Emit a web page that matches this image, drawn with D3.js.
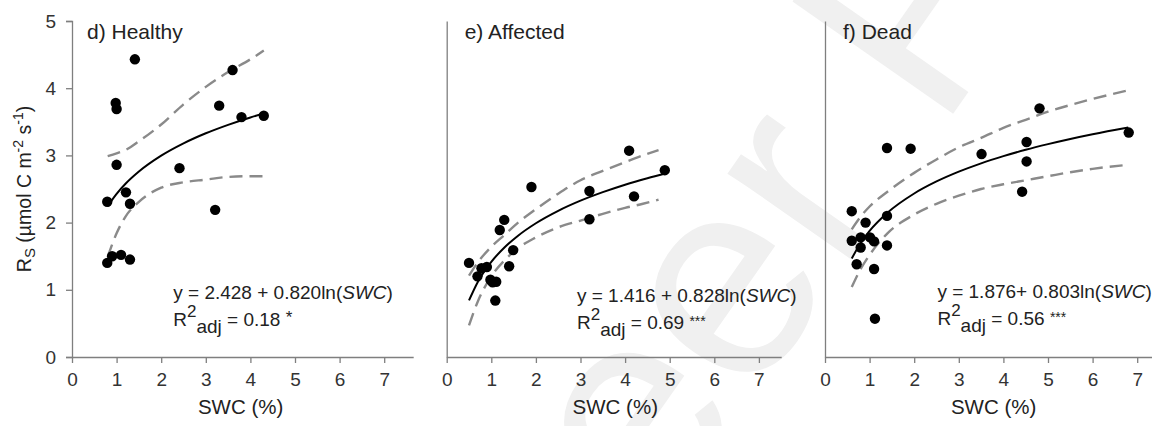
<!DOCTYPE html>
<html>
<head>
<meta charset="utf-8">
<script src="https://cdn.jsdelivr.net/npm/d3@7"></script>
<style>
  body { margin: 0; background: #fff; }
  svg { font-family: "Liberation Sans", Arial, sans-serif; }
  .axis path, .axis line { stroke: #7f7f7f; stroke-width: 1.3; }
  .axis text { fill: #333; font-size: 19px; font-family: "Liberation Sans", Arial, sans-serif; }
</style>
</head>
<body>
<div id="chart"></div>
<script>
// Panel titles and fit texts
var panelTitles = ["d) Healthy", "e) Affected", "f) Dead"];
var fitEquations = ["y = 2.428 + 0.820ln(", "y = 1.416 + 0.828ln(", "y = 1.876+ 0.803ln("];
var r2Values = [" = 0.18 ", " = 0.69 ", " = 0.56 "];
var r2Stars = ["*", "***", "***"];

// Axis ticks
var xTicks = [0, 1, 2, 3, 4, 5, 6, 7];
var yTicks = [0, 1, 2, 3, 4, 5];

// Healthy: observations
var swcHealthy = [1.41, 0.98, 1.0, 1.0, 0.79, 1.21, 1.30, 0.79, 0.90, 1.10, 1.30, 2.41, 3.21, 3.30, 3.60, 3.80, 4.30];
var rsHealthy  = [4.43, 3.78, 3.69, 2.86, 2.31, 2.45, 2.28, 1.40, 1.50, 1.52, 1.45, 2.81, 2.19, 3.74, 4.27, 3.57, 3.59];
// Healthy: fitted curve and 95% band
var fitXHealthy   = [0.8, 1.0, 1.2, 1.5, 2.0, 2.5, 3.0, 3.5, 4.0, 4.3];
var fitYHealthy   = [2.245, 2.428, 2.578, 2.760, 2.996, 3.179, 3.329, 3.455, 3.565, 3.624];
var upperHealthy  = [2.99, 3.03, 3.08, 3.21, 3.46, 3.76, 4.02, 4.24, 4.43, 4.56];
var lowerHealthy  = [1.49, 1.84, 2.09, 2.31, 2.52, 2.60, 2.64, 2.68, 2.69, 2.69];

// Affected: observations
var swcAffected = [0.50, 0.69, 0.78, 0.90, 0.98, 1.03, 1.11, 1.09, 1.19, 1.29, 1.49, 1.40, 1.90, 3.20, 3.20, 4.09, 4.20, 4.89];
var rsAffected  = [1.40, 1.20, 1.32, 1.34, 1.15, 1.11, 1.12, 0.84, 1.89, 2.04, 1.59, 1.35, 2.53, 2.47, 2.05, 3.07, 2.39, 2.78];
// Affected: fitted curve and band
var fitXAffected  = [0.5, 0.7, 1.0, 1.3, 1.6, 2.0, 2.5, 3.0, 3.5, 4.0, 4.5, 4.9];
var fitYAffected  = [0.842, 1.121, 1.416, 1.633, 1.805, 1.990, 2.175, 2.326, 2.453, 2.564, 2.661, 2.732];
var bandXAffected = [0.5, 0.7, 1.0, 1.3, 1.6, 2.0, 2.5, 3.0, 3.5, 4.0, 4.4, 4.75];
var upperAffected = [1.21, 1.41, 1.64, 1.82, 2.00, 2.20, 2.43, 2.63, 2.77, 2.90, 3.00, 3.08];
var lowerAffected = [0.47, 0.83, 1.20, 1.44, 1.62, 1.78, 1.93, 2.03, 2.13, 2.22, 2.28, 2.34];

// Dead: observations
var swcDead = [0.60, 0.60, 0.71, 0.80, 0.80, 0.91, 1.01, 1.10, 1.10, 1.12, 1.39, 1.39, 1.39, 1.92, 3.51, 4.42, 4.52, 4.52, 4.81, 6.81];
var rsDead  = [2.17, 1.73, 1.38, 1.78, 1.63, 2.00, 1.78, 1.72, 1.31, 0.57, 3.11, 2.10, 1.66, 3.10, 3.02, 2.46, 3.20, 2.91, 3.70, 3.34];
// Dead: fitted curve and band
var fitXDead  = [0.6, 0.8, 1.0, 1.4, 2.0, 2.5, 3.0, 3.5, 4.0, 4.5, 5.0, 5.5, 6.0, 6.8];
var fitYDead  = [1.466, 1.697, 1.876, 2.146, 2.433, 2.612, 2.758, 2.882, 2.989, 3.084, 3.168, 3.245, 3.315, 3.415];
var upperDead = [1.90, 2.09, 2.24, 2.46, 2.74, 2.94, 3.12, 3.26, 3.41, 3.53, 3.65, 3.75, 3.84, 3.97];
var lowerDead = [1.04, 1.31, 1.52, 1.84, 2.12, 2.28, 2.40, 2.50, 2.57, 2.63, 2.69, 2.75, 2.80, 2.86];

var panels = [
  { swc: swcHealthy, rs: rsHealthy, fitX: fitXHealthy, fitY: fitYHealthy, bandX: fitXHealthy, upper: upperHealthy, lower: lowerHealthy },
  { swc: swcAffected, rs: rsAffected, fitX: fitXAffected, fitY: fitYAffected, bandX: bandXAffected, upper: upperAffected, lower: lowerAffected },
  { swc: swcDead, rs: rsDead, fitX: fitXDead, fitY: fitYDead, bandX: fitXDead, upper: upperDead, lower: lowerDead }
];

// layout
var svg__Width = 1152, svg__Height = 426;
var panel__Left = [72, 446.7, 825];
var panel__XMax = [7.65, 7.5, 7.33];
var unit__Px = 44.6;
var eq__Pos = [[2.27, 0.87], [2.92, 0.82], [2.52, 0.88]];
var title__Dx = [15, 18, 18];

var svg = d3.select("#chart").append("svg")
  .attr("width", svg__Width)
  .attr("height", svg__Height);

// faint page watermark
svg.append("text")
  .attr("transform", "translate(549,691) rotate(-55)")
  .attr("font-size", 285)
  .attr("fill", "#f0f0f0")
  .text("Peer Preprints");

var yScale = d3.scaleLinear().domain([0, 5]).range([357, 21]);

panels.forEach(function(p, i) {
  var x0 = panel__Left[i];
  var xScale = d3.scaleLinear()
    .domain([0, panel__XMax[i]])
    .range([x0, x0 + panel__XMax[i] * unit__Px]);

  var g = svg.append("g");

  // axes
  g.append("g")
    .attr("class", "axis")
    .attr("transform", "translate(0,357)")
    .call(d3.axisBottom(xScale).tickValues(xTicks).tickFormat(d3.format("d"))
      .tickSize(6).tickSizeOuter(0).tickPadding(10));

  var yAxis = d3.axisLeft(yScale).tickSizeOuter(0);
  if (i === 0) yAxis.tickValues(yTicks).tickFormat(d3.format("d")).tickSize(6).tickPadding(10);
  else yAxis.tickValues([]);
  g.append("g")
    .attr("class", "axis")
    .attr("transform", "translate(" + x0 + ",0)")
    .call(yAxis);

  // confidence band
  var dashLine = d3.line()
    .x(function(d) { return xScale(d[0]); })
    .y(function(d) { return yScale(d[1]); })
    .curve(d3.curveMonotoneX);

  [p.upper, p.lower].forEach(function(band) {
    g.append("path")
      .datum(p.bandX.map(function(x, k) { return [x, band[k]]; }))
      .attr("d", dashLine)
      .attr("fill", "none")
      .attr("stroke", "#8a8a8a")
      .attr("stroke-width", 2.4)
      .attr("stroke-dasharray", "13,7");
  });

  // fitted curve
  g.append("path")
    .datum(p.fitX.map(function(x, k) { return [x, p.fitY[k]]; }))
    .attr("d", dashLine)
    .attr("fill", "none")
    .attr("stroke", "#000")
    .attr("stroke-width", 2);

  // observations
  g.selectAll(".dot")
    .data(p.swc.map(function(x, k) { return [x, p.rs[k]]; }))
    .enter()
    .append("circle")
    .attr("class", "dot")
    .attr("cx", function(d) { return xScale(d[0]); })
    .attr("cy", function(d) { return yScale(d[1]); })
    .attr("r", 5.2)
    .attr("fill", "#000");

  // title
  g.append("text")
    .attr("x", x0 + title__Dx[i])
    .attr("y", 39)
    .attr("font-size", 21)
    .attr("fill", "#222")
    .text(panelTitles[i]);

  // equation
  var ex = xScale(eq__Pos[i][0]), ey = yScale(eq__Pos[i][1]);
  var eq = g.append("text")
    .attr("x", ex).attr("y", ey)
    .attr("font-size", 19)
    .attr("fill", "#222");
  eq.append("tspan").text(fitEquations[i]);
  eq.append("tspan").attr("font-style", "italic").text("SWC");
  eq.append("tspan").text(")");

  var r2 = g.append("text")
    .attr("x", ex).attr("y", ey + 27)
    .attr("font-size", 19)
    .attr("fill", "#222");
  r2.append("tspan").text("R");
  r2.append("tspan").attr("font-size", 17).attr("dy", -9).text("2");
  r2.append("tspan").attr("dy", 16.5).text("adj");
  r2.append("tspan").attr("dy", -7.5).text(r2Values[i]);
  r2.append("tspan").attr("font-size", i === 0 ? 17 : 14).attr("dy", -3).text(r2Stars[i]);

  // x label
  g.append("text")
    .attr("x", xScale(3.78))
    .attr("y", 414)
    .attr("text-anchor", "middle")
    .attr("font-size", 20.5)
    .attr("fill", "#222")
    .text("SWC (%)");
});

// y label
var yl = svg.append("text")
  .attr("transform", "translate(31,189) rotate(-90)")
  .attr("text-anchor", "middle")
  .attr("font-size", 19.5)
  .attr("fill", "#222");
yl.append("tspan").text("R");
yl.append("tspan").attr("font-size", 15).attr("dy", 4).text("S");
yl.append("tspan").attr("dy", -4).text(" (\u00b5mol C m");
yl.append("tspan").attr("font-size", 14).attr("dy", -8).text("-2");
yl.append("tspan").attr("dy", 8).text(" s");
yl.append("tspan").attr("font-size", 14).attr("dy", -8).text("-1");
yl.append("tspan").attr("dy", 8).text(")");
</script>
</body>
</html>
